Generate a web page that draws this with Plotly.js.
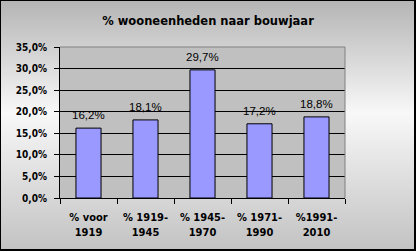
<!DOCTYPE html>
<html>
<head>
<meta charset="utf-8">
<script src="https://cdn.plot.ly/plotly-3.0.1.min.js"></script>
<style>
html,body{margin:0;padding:0;width:416px;height:251px;overflow:hidden;}
#wrap{position:relative;width:416px;height:251px;background:linear-gradient(to bottom,#b4b4b4 0%,#f8f8f8 45%,#c2c2c2 100%);}
#plot{position:absolute;left:0;top:0;width:416px;height:251px;}
#frame{position:absolute;left:0;top:0;width:416px;height:251px;box-sizing:border-box;border-top:1px solid #000;border-left:1px solid #000;border-right:2px solid #000;border-bottom:2px solid #000;pointer-events:none;}
</style>
</head>
<body>
<div id="wrap"><div id="plot"></div><div id="frame"></div></div>
<script>
var categories = ["% voor<br>1919", "% 1919-<br>1945", "% 1945-<br>1970", "% 1971-<br>1990", "%1991-<br>2010"];
var values = [16.2, 18.1, 29.7, 17.2, 18.8];
var valueLabels = ["16,2%", "18,1%", "29,7%", "17,2%", "18,8%"];
var tickVals = [0, 5, 10, 15, 20, 25, 30, 35];
var tickText = ["0,0%", "5,0%", "10,0%", "15,0%", "20,0%", "25,0%", "30,0%", "35,0%"];
var titleText = "% wooneenheden naar bouwjaar";

var boldFont = "DejaVu Sans Condensed, DejaVu Sans, sans-serif";

var trace = {
  type: "bar",
  x: categories,
  y: values,
  marker: {color: "#9999ff", line: {color: "#000000", width: 1}},
  width: 0.44,
  hoverinfo: "none"
};

var annotations = categories.map(function(c, i){
  return {
    x: c, y: values[i], xref: "x", yref: "y",
    text: valueLabels[i], showarrow: false,
    yanchor: "bottom", yshift: 5,
    font: {family: "Liberation Sans, Arial, sans-serif", size: 11.5, color: "#000000"}
  };
});

var layout = {
  width: 416, height: 251,
  margin: {l: 60, r: 71, t: 47, b: 53, pad: 0},
  paper_bgcolor: "rgba(0,0,0,0)",
  plot_bgcolor: "#c0c0c0",
  showlegend: false,
  title: {
    text: "<b>" + titleText + "</b>",
    x: 0.5, xanchor: "center", y: 1 - 21/251, yanchor: "middle",
    font: {family: "DejaVu Sans, sans-serif", size: 11.5, color: "#000000"}
  },
  xaxis: {
    type: "category",
    showgrid: false,
    showline: true, linecolor: "#000000", linewidth: 1,
    ticks: "outside", ticklen: 5, tickcolor: "#000000", tickwidth: 1,
    tickson: "boundaries",
    ticklabelstandoff: 9,
    tickfont: {family: boldFont, size: 11, color: "#000000", weight: "bold"},
    fixedrange: true
  },
  yaxis: {
    range: [0, 35],
    tickvals: tickVals, ticktext: tickText,
    showgrid: true, gridcolor: "#000000", gridwidth: 1,
    showline: true, linecolor: "#000000", linewidth: 1,
    ticks: "outside", ticklen: 5, tickcolor: "#000000", tickwidth: 1,
    ticklabelstandoff: 5,
    tickfont: {family: boldFont, size: 10, color: "#000000", weight: "bold"},
    zeroline: false,
    fixedrange: true
  },
  shapes: [
    {type: "line", xref: "paper", yref: "paper", x0: 0, x1: 1, y0: 1, y1: 1, line: {color: "#808080", width: 1}},
    {type: "line", xref: "paper", yref: "paper", x0: 1, x1: 1, y0: 0, y1: 1, line: {color: "#808080", width: 1}}
  ],
  annotations: annotations,
  bargap: 0.56
};

Plotly.newPlot("plot", [trace], layout, {displayModeBar: false, staticPlot: true});
</script>
</body>
</html>
